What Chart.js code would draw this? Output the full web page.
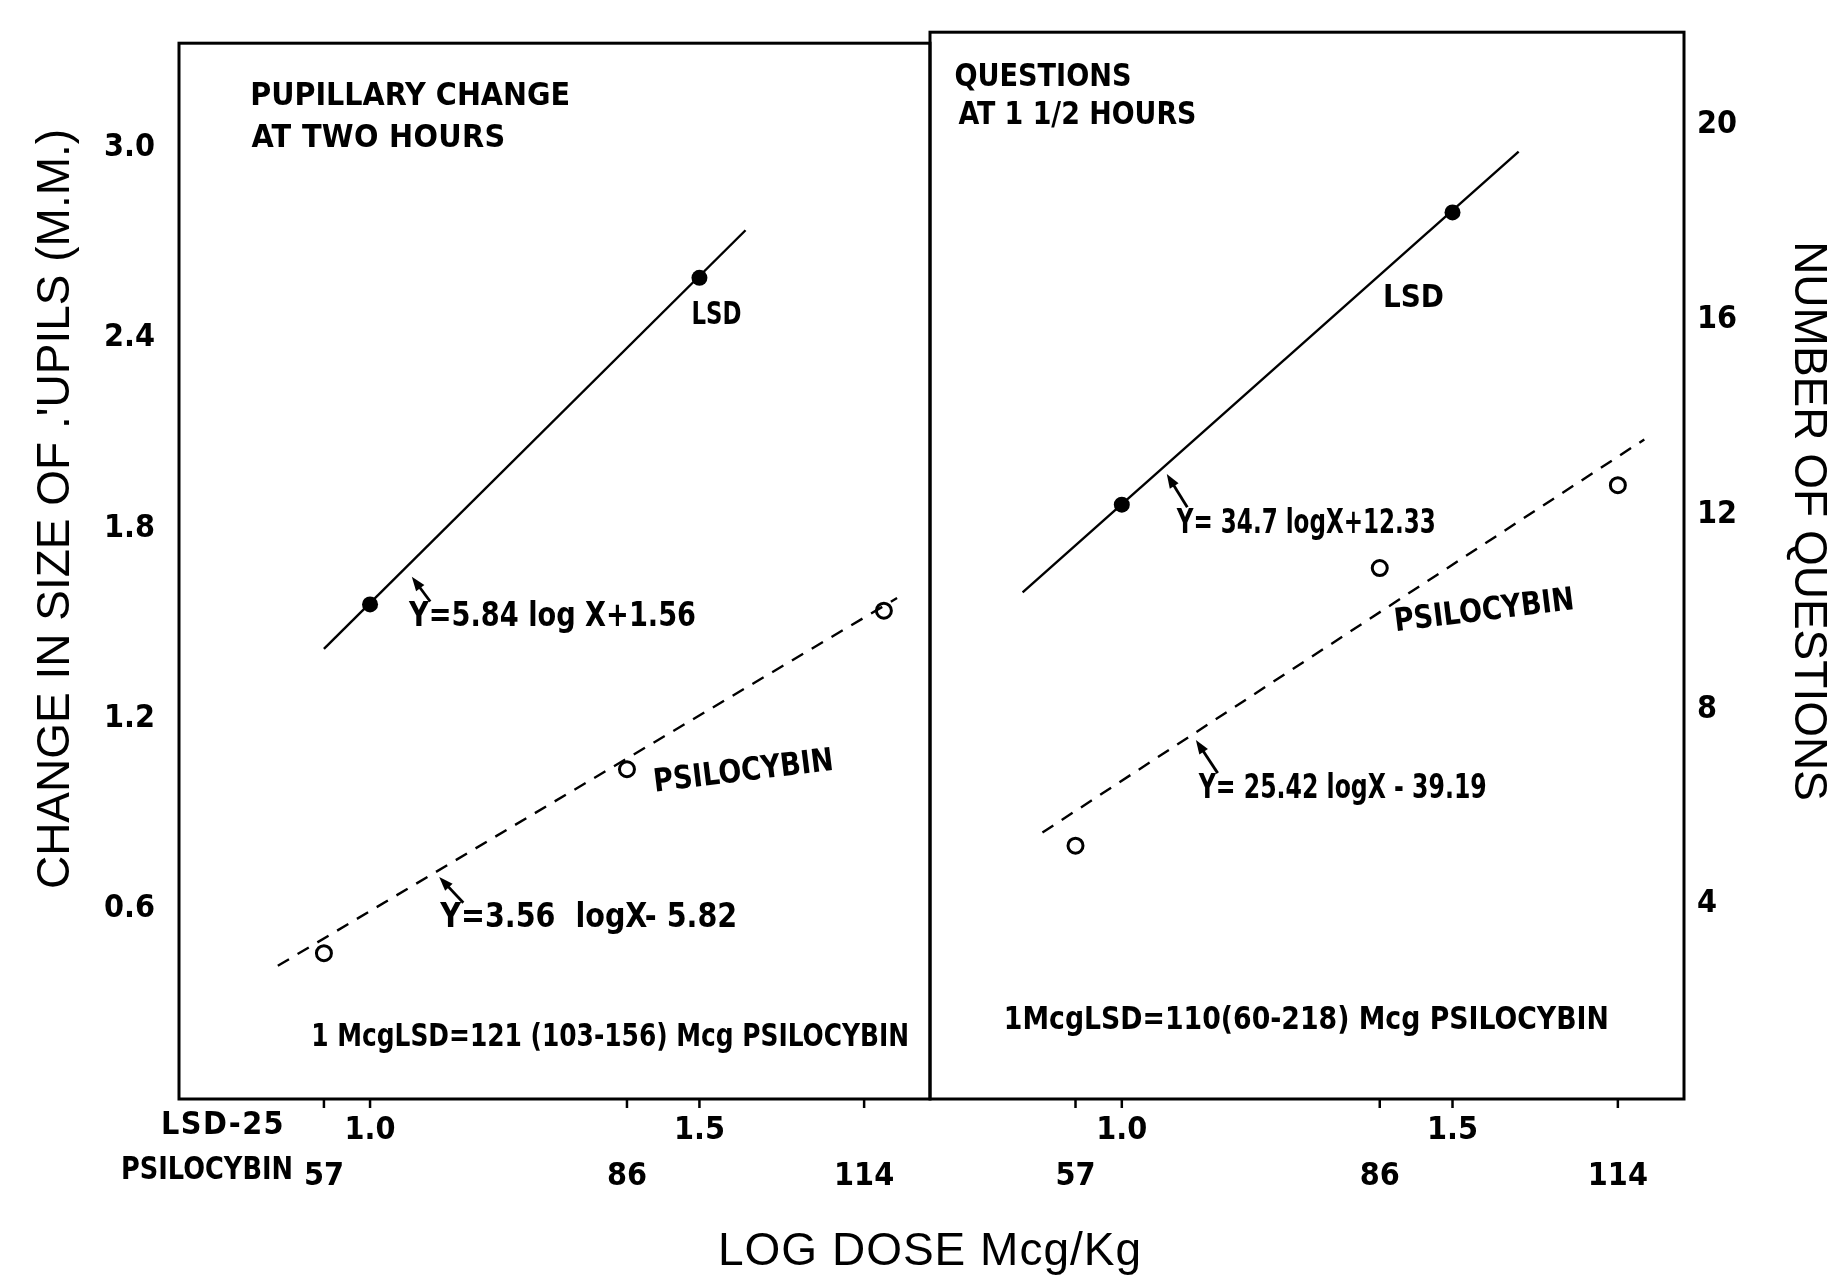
<!DOCTYPE html>
<html>
<head>
<meta charset="utf-8">
<title>Pupillary change and questions vs log dose</title>
<script src="https://cdn.jsdelivr.net/npm/chart.js@4.4.1/dist/chart.umd.min.js"></script>
<style>
    html, body { margin: 0; padding: 0; background: #fff; }
    #wrap { position: relative; width: 1846px; height: 1280px; }
    canvas { position: absolute; left: 0; top: 0; }
</style>
</head>
<body>
<div id="wrap">
    <canvas id="pupilas" width="1846" height="1280"></canvas>
    <canvas id="preguntas" width="1846" height="1280"></canvas>
</div>
<script>
        // ============ DATA ============
        // x axis = log dose of LSD-25; psilocybin doses sit on the same axis
        const LSD_DOSE_TICKS = [1.0, 1.5];
        const LSD_DOSE_LABELS = ['1.0', '1.5'];
        const PSI_DOSE_TICKS = [0.93, 1.39, 1.75];
        const PSI_DOSE_LABELS = ['57', '86', '114'];

        const PUPIL_TICKS = [0.6, 1.2, 1.8, 2.4, 3.0];
        const QUESTION_TICKS = [4, 8, 12, 16, 20];

        // pupillary change (mm) at two hours
        const pupilLsdX = [1.0, 1.5];
        const pupilLsdY = [1.56, 2.59];
        const pupilPsiX = [0.93, 1.39, 1.78];
        const pupilPsiY = [0.46, 1.04, 1.54];
        const pupilLsdFitX = [0.93, 1.57];
        const pupilLsdFitY = [1.42, 2.74];
        const pupilPsiFitX = [0.86, 1.80];
        const pupilPsiFitY = [0.42, 1.58];

        // number of questions at 1 1/2 hours
        const questLsdX = [1.0, 1.5];
        const questLsdY = [12.2, 18.2];
        const questPsiX = [0.93, 1.39, 1.75];
        const questPsiY = [5.2, 10.9, 12.6];
        const questLsdFitX = [0.85, 1.60];
        const questLsdFitY = [10.4, 19.45];
        const questPsiFitX = [0.88, 1.79];
        const questPsiFitY = [5.47, 13.54];

        // ============ STYLE ============
        const NARROW = "'Liberation Sans Narrow', 'DejaVu Sans Condensed', sans-serif";
        const PLAIN = "'Liberation Sans', 'DejaVu Sans', sans-serif";
        const W = 1846, H = 1280;
        const X_MIN = 0.71, X_MAX = 1.85;

        const pts = (xs, ys) => xs.map((x, i) => ({ x: x, y: ys[i] }));

        // texts inside the panels (position in data units, w = width on the page)
        const pupilNotes = [
            { text: 'PUPILLARY CHANGE', x: 0.818, y: 3.16, align: 'left', w: 320 },
            { text: 'AT TWO HOURS', x: 0.82, y: 3.03, align: 'left', w: 254 },
            { text: 'LSD', x: 1.526, y: 2.47, w: 50 },
            { text: 'Y=5.84 log X+1.56', x: 1.277, y: 1.52, w: 287, size: 34 },
            { text: 'PSILOCYBIN', x: 1.567, y: 1.03, w: 181, angle: -7 },
            { text: 'Y=3.56  logX- 5.82', x: 1.332, y: 0.571, w: 297, size: 34 },
            { text: '1 McgLSD=121 (103-156) Mcg PSILOCYBIN', x: 1.3645, y: 0.193, w: 598 }
        ];
        const pupilArrows = [
            { from: [1.0914, 1.569], to: [1.0634, 1.647] },
            { from: [1.1416, 0.619], to: [1.105, 0.700] }
        ];
        const questNotes = [
            { text: 'QUESTIONS', x: 0.747, y: 20.97, align: 'left', w: 177 },
            { text: 'AT 1 1/2 HOURS', x: 0.753, y: 20.18, align: 'left', w: 238 },
            { text: 'LSD', x: 1.441, y: 16.42, w: 61 },
            { text: 'Y= 34.7 logX+12.33', x: 1.279, y: 11.81, w: 259, size: 34 },
            { text: 'PSILOCYBIN', x: 1.548, y: 10.0, w: 181, angle: -7 },
            { text: 'Y= 25.42 logX - 39.19', x: 1.334, y: 6.37, w: 288, size: 34 },
            { text: '1McgLSD=110(60-218) Mcg PSILOCYBIN', x: 1.279, y: 1.60, w: 605 }
        ];
        const questArrows = [
            { from: [1.099, 12.15], to: [1.068, 12.83] },
            { from: [1.145, 6.69], to: [1.112, 7.37] }
        ];

        // ============ HELPERS ============
        function drawFitted(ctx, text, x, y, size, family, w, align) {
            ctx.font = 'bold ' + size + 'px ' + family;
            ctx.letterSpacing = '0px';
            const m = ctx.measureText(text).width;
            let sx = 1;
            if (w && w > m) {
                ctx.letterSpacing = ((w - m) / text.length).toFixed(2) + 'px';
            } else if (w) {
                sx = w / m;
            }
            const real = w || m;
            let left = x;
            if (align === 'center') left = x - real / 2;
            if (align === 'right') left = x - real;
            ctx.save();
            ctx.translate(left, y);
            ctx.scale(sx, 1);
            ctx.textAlign = 'left';
            ctx.textBaseline = 'middle';
            ctx.fillText(text, 0, 0);
            ctx.restore();
            ctx.letterSpacing = '0px';
        }

        function arrow(ctx, x1, y1, x2, y2) {
            const a = Math.atan2(y2 - y1, x2 - x1);
            const len = 15;
            ctx.beginPath();
            ctx.moveTo(x1, y1);
            ctx.lineTo(x2 - Math.cos(a) * len * 0.6, y2 - Math.sin(a) * len * 0.6);
            ctx.stroke();
            ctx.beginPath();
            ctx.moveTo(x2, y2);
            ctx.lineTo(x2 - len * Math.cos(a - 0.35), y2 - len * Math.sin(a - 0.35));
            ctx.lineTo(x2 - len * Math.cos(a + 0.35), y2 - len * Math.sin(a + 0.35));
            ctx.closePath();
            ctx.fill();
        }

        const xTickLabel = function(v) {
            const i = LSD_DOSE_TICKS.findIndex(t => Math.abs(t - v) < 1e-6);
            if (i >= 0) return [LSD_DOSE_LABELS[i], ''];
            const j = PSI_DOSE_TICKS.findIndex(t => Math.abs(t - v) < 1e-6);
            return ['', j >= 0 ? PSI_DOSE_LABELS[j] : ''];
        };

        // frame, notes, arrows, titles
        const decor = {
            id: 'decor',
            afterDatasetsDraw(chart, args, opts) {
                const ctx = chart.ctx;
                const a = chart.chartArea;
                const xs = chart.scales.x, ys = chart.scales.y;
                ctx.save();
                ctx.strokeStyle = '#000';
                ctx.fillStyle = '#000';
                ctx.lineWidth = 3;
                ctx.strokeRect(a.left, a.top, a.right - a.left, a.bottom - a.top);
                // outward tick marks on the dose axis
                ctx.lineWidth = 2.5;
                LSD_DOSE_TICKS.concat(PSI_DOSE_TICKS).forEach(v => {
                    const px = xs.getPixelForValue(v);
                    ctx.beginPath();
                    ctx.moveTo(px, a.bottom);
                    ctx.lineTo(px, a.bottom + 9);
                    ctx.stroke();
                });
                // notes
                opts.notes.forEach(n => {
                    const px = xs.getPixelForValue(n.x), py = ys.getPixelForValue(n.y);
                    if (n.angle) {
                        ctx.save();
                        ctx.translate(px, py);
                        ctx.rotate(n.angle * Math.PI / 180);
                        drawFitted(ctx, n.text, 0, 0, n.size || 32, NARROW, n.w, 'center');
                        ctx.restore();
                    } else {
                        drawFitted(ctx, n.text, px, py, n.size || 32, NARROW, n.w, n.align || 'center');
                    }
                });
                ctx.lineWidth = 2.8;
                opts.arrows.forEach(r => {
                    arrow(ctx, xs.getPixelForValue(r.from[0]), ys.getPixelForValue(r.from[1]),
                        xs.getPixelForValue(r.to[0]), ys.getPixelForValue(r.to[1]));
                });
                // axis title
                ctx.font = '46px ' + PLAIN;
                ctx.textAlign = 'center';
                ctx.textBaseline = 'middle';
                ctx.save();
                ctx.translate(opts.title.x, opts.title.y);
                ctx.rotate(opts.title.angle * Math.PI / 180);
                ctx.fillText(opts.title.text, 0, 0);
                ctx.restore();
                if (opts.rowLabels) {
                    drawFitted(ctx, 'LSD-25', a.left + 44, a.bottom + 27, 32, NARROW, 124, 'center');
                    drawFitted(ctx, 'PSILOCYBIN', a.left + 114, a.bottom + 72, 32, NARROW, 172, 'right');
                    ctx.font = '46px ' + PLAIN;
                    ctx.letterSpacing = '1px';
                    ctx.textAlign = 'center';
                    ctx.textBaseline = 'middle';
                    ctx.fillText('LOG DOSE Mcg/Kg', 930, 1252);
                    ctx.letterSpacing = '0px';
                }
                ctx.restore();
            }
        };

        function makePanel(id, cfg) {
            const tickFont = { family: NARROW, size: 32, weight: 'bold' };
            return new Chart(document.getElementById(id), {
                type: 'scatter',
                data: {
                    datasets: [
                        {
                            label: 'LSD fit',
                            data: cfg.lsdFit,
                            showLine: true,
                            borderColor: '#000',
                            borderWidth: 2.4,
                            pointRadius: 0
                        },
                        {
                            label: 'PSILOCYBIN fit',
                            data: cfg.psiFit,
                            showLine: true,
                            borderColor: '#000',
                            borderWidth: 2.4,
                            borderDash: [13, 10],
                            pointRadius: 0
                        },
                        {
                            label: 'LSD',
                            data: cfg.lsd,
                            pointRadius: 8,
                            pointBackgroundColor: '#000',
                            pointBorderColor: '#000',
                            pointBorderWidth: 0
                        },
                        {
                            label: 'PSILOCYBIN',
                            data: cfg.psi,
                            pointRadius: 7.5,
                            pointBackgroundColor: '#fff',
                            pointBorderColor: '#000',
                            pointBorderWidth: 3
                        }
                    ]
                },
                options: {
                    responsive: false,
                    animation: false,
                    events: [],
                    layout: { padding: cfg.padding },
                    plugins: {
                        legend: { display: false },
                        tooltip: { enabled: false },
                        decor: { notes: cfg.notes, arrows: cfg.arrows, title: cfg.title, rowLabels: cfg.rowLabels }
                    },
                    scales: {
                        x: {
                            type: 'linear',
                            min: X_MIN,
                            max: X_MAX,
                            afterBuildTicks: s => { s.ticks = LSD_DOSE_TICKS.concat(PSI_DOSE_TICKS).sort((a, b) => a - b).map(v => ({ value: v })); },
                            afterFit: s => { s.height = H - 1099; },
                            grid: { display: false, drawTicks: false },
                            border: { display: false },
                            ticks: {
                                autoSkip: false,
                                maxRotation: 0,
                                padding: 8,
                                color: '#000',
                                font: Object.assign({ lineHeight: 1.45 }, tickFont),
                                callback: xTickLabel
                            }
                        },
                        y: {
                            type: 'linear',
                            position: cfg.yPos,
                            min: 0,
                            max: cfg.yMax,
                            afterBuildTicks: s => { s.ticks = cfg.yTicks.map(v => ({ value: v })); },
                            afterFit: s => { s.width = cfg.yWidth; },
                            grid: { display: false, drawTicks: false },
                            border: { display: false },
                            ticks: {
                                padding: cfg.yPad,
                                color: '#000',
                                font: tickFont,
                                callback: cfg.yFmt
                            }
                        }
                    }
                },
                plugins: [decor]
            });
        }

        // ============ LEFT: PUPILS ============
        makePanel('pupilas', {
            lsd: pts(pupilLsdX, pupilLsdY),
            psi: pts(pupilPsiX, pupilPsiY),
            lsdFit: pts(pupilLsdFitX, pupilLsdFitY),
            psiFit: pts(pupilPsiFitX, pupilPsiFitY),
            padding: { left: 0, right: W - 930, top: 27, bottom: 0 },
            yPos: 'left',
            yMax: 3.33,
            yTicks: PUPIL_TICKS,
            yWidth: 179,
            yPad: 24,
            yFmt: v => v.toFixed(1),
            notes: pupilNotes,
            arrows: pupilArrows,
            title: { text: "CHANGE IN SIZE OF .'UPILS (M.M.)", x: 56, y: 509, angle: -90 },
            rowLabels: true
        });

        // ============ RIGHT: QUESTIONS ============
        makePanel('preguntas', {
            lsd: pts(questLsdX, questLsdY),
            psi: pts(questPsiX, questPsiY),
            lsdFit: pts(questLsdFitX, questLsdFitY),
            psiFit: pts(questPsiFitX, questPsiFitY),
            padding: { left: 930, right: 0, top: 27, bottom: 0 },
            yPos: 'right',
            yMax: 21.9,
            yTicks: QUESTION_TICKS,
            yWidth: W - 1684,
            yPad: 13,
            yFmt: v => String(v),
            notes: questNotes,
            arrows: questArrows,
            title: { text: 'NUMBER OF QUESTIONS', x: 1808, y: 521, angle: 90 },
            rowLabels: false
        });
</script>
</body>
</html>
